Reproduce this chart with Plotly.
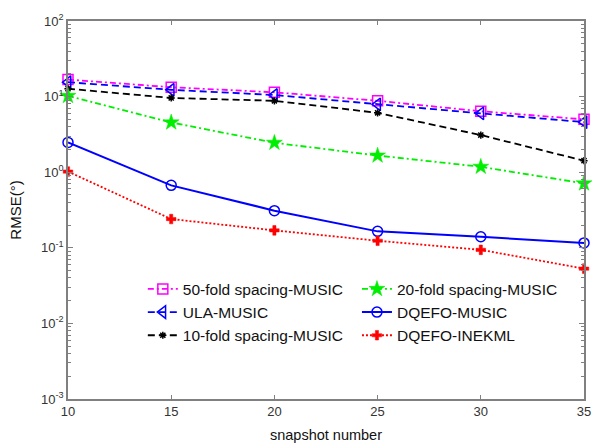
import plotly.graph_objects as go

snapshots = [10, 15, 20, 25, 30, 35]
fold50_music = [16.8, 13.3, 11.4, 8.8, 6.4, 5.0]
ula_music = [15.5, 12.3, 10.5, 7.9, 6.0, 4.6]
fold10_music = [12.7, 9.6, 8.8, 6.1, 3.1, 1.42]
fold20_music = [10.2, 4.55, 2.45, 1.66, 1.18, 0.71]
dqefo_music = [2.48, 0.67, 0.31, 0.165, 0.14, 0.116]
dqefo_inekml = [1.02, 0.24, 0.17, 0.124, 0.094, 0.053]

y_tickvals = [1e-3, 1e-2, 1e-1, 1, 10, 100]
y_ticktext = ["10<sup>-3</sup>", "10<sup>-2</sup>", "10<sup>-1</sup>",
              "10<sup>0</sup>", "10<sup>1</sup>", "10<sup>2</sup>"]
x_tickvals = [10, 15, 20, 25, 30, 35]

minor_y = [m * 10.0 ** e for e in range(-3, 2) for m in range(2, 10)]

fig = go.Figure()

def add(name, y, color, dash, symbol, size, legend, width=1.8, mline=1.5):
    fig.add_trace(go.Scatter(
        x=snapshots, y=y, name=name, mode="lines+markers",
        line=dict(color=color, dash=dash, width=width),
        marker=dict(symbol=symbol, size=size, color=color,
                    line=dict(color=color, width=mline)),
        cliponaxis=False, legend=legend))

add("50-fold spacing-MUSIC", fold50_music, "#ff00ff", "6px,3px,2px,3px", "square-open", 10, "legend")
add("ULA-MUSIC", ula_music, "#0000ff", "7px,4px", "triangle-left-open", 11, "legend")
add("10-fold spacing-MUSIC", fold10_music, "#000000", "7px,4px", "asterisk-open", 6, "legend")
add("20-fold spacing-MUSIC", fold20_music, "#00ee00", "6px,3px,2px,3px", "star", 12, "legend2", mline=0.5)
add("DQEFO-MUSIC", dqefo_music, "#0000ff", "solid", "circle-open", 10, "legend2", width=2)
add("DQEFO-INEKML", dqefo_inekml, "#ff0000", "2px,2px", "cross", 8, "legend2", mline=0.5)

axis_common = dict(showline=True, linecolor="#808080", linewidth=1.5, mirror="ticks",
                   ticks="inside", tickcolor="#808080", showgrid=False, zeroline=False,
                   tickfont=dict(family="Liberation Sans, Arial", size=13, color="#333333"))

fig.update_xaxes(range=[10, 35], tickmode="array", tickvals=x_tickvals, ticklen=4,
                 title=dict(text="snapshot number", font=dict(size=14.5, color="#111111"), standoff=12),
                 **axis_common)
fig.update_yaxes(type="log", range=[-3, 2], tickmode="array", tickvals=y_tickvals,
                 ticktext=y_ticktext, ticklen=5,
                 minor=dict(tickmode="array", tickvals=minor_y, ticks="inside", ticklen=3,
                            tickcolor="#808080"),
                 title=dict(text="RMSE(°)", font=dict(size=15, color="#111111"), standoff=16),
                 **axis_common)

legend_common = dict(bgcolor="rgba(0,0,0,0)", borderwidth=0, yanchor="top",
                     xanchor="left", tracegroupgap=0,
                     font=dict(family="Liberation Sans, Arial", size=15.5, color="#111111"))
fig.update_layout(
    width=597, height=447,
    margin=dict(l=68, r=6, t=21, b=47),
    paper_bgcolor="white", plot_bgcolor="white",
    font=dict(family="Liberation Sans, Arial"),
    legend=dict(x=0.145, y=0.335, **legend_common),
    legend2=dict(x=0.56, y=0.335, **legend_common),
)

fig.write_html("out.html")
